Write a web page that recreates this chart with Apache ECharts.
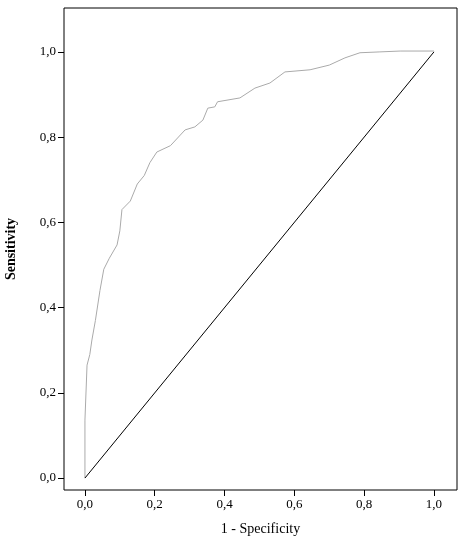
<!DOCTYPE html>
<html><head><meta charset="utf-8">
<script src="https://cdn.jsdelivr.net/npm/echarts@6/dist/echarts.min.js"></script>
<style>html,body{margin:0;padding:0;background:#fff}#c{width:468px;height:539px}</style>
</head><body><div id="c"></div>
<script>
const rocX = [0,0,0.006,0.014,0.02,0.03,0.043,0.054,0.07,0.092,0.1,0.106,0.13,0.15,0.17,0.186,0.206,0.245,0.287,0.315,0.338,0.352,0.372,0.38,0.444,0.487,0.53,0.573,0.645,0.70,0.745,0.788,0.845,0.903,1];
const rocY = [0,0.136,0.265,0.29,0.324,0.37,0.44,0.49,0.516,0.547,0.58,0.63,0.65,0.69,0.71,0.74,0.765,0.78,0.817,0.824,0.84,0.868,0.871,0.883,0.892,0.915,0.927,0.953,0.958,0.969,0.986,0.998,1.0,1.002,1.002];
const tickVals = [0,0.2,0.4,0.6,0.8,1.0];
const refX = [0,1], refY = [0,1];
const fmt = v => v.toFixed(1).replace('.', ',');
const font = 'Liberation Serif';
const chart = echarts.init(document.getElementById('c'));
const ax = (name, gap, rot) => ({
  type:'value', min:-0.06, max:1.066, name, nameLocation:'middle', nameGap:gap, nameRotate:rot,
  nameTextStyle:{fontFamily:font,fontSize:14,color:'#000',fontWeight:rot?'bold':'normal'},
  axisLine:{show:false,onZero:false}, splitLine:{show:false},
  axisTick:{show:true,customValues:tickVals,length:6,lineStyle:{color:'#000'}},
  axisLabel:{customValues:tickVals,formatter:fmt,fontFamily:font,fontSize:13,color:'#000',margin:8}
});
const xa = ax('1 - Specificity', 32, 0);
const ya = ax('Sensitivity', 46, 90);
ya.min = -0.028; ya.max = 1.103;
chart.setOption({
  animation:false,
  grid:{left:64,right:11,top:8,bottom:49,show:true,borderColor:'#000',borderWidth:1,containLabel:false,outerBoundsMode:'none'},
  xAxis:xa, yAxis:ya,
  series:[
    {type:'line',data:rocX.map((x,i)=>[x,rocY[i]]),showSymbol:false,lineStyle:{color:'#aaa',width:1}},
    {type:'line',data:refX.map((x,i)=>[x,refY[i]]),showSymbol:false,lineStyle:{color:'#000',width:1}}
  ]
});
</script></body></html>
